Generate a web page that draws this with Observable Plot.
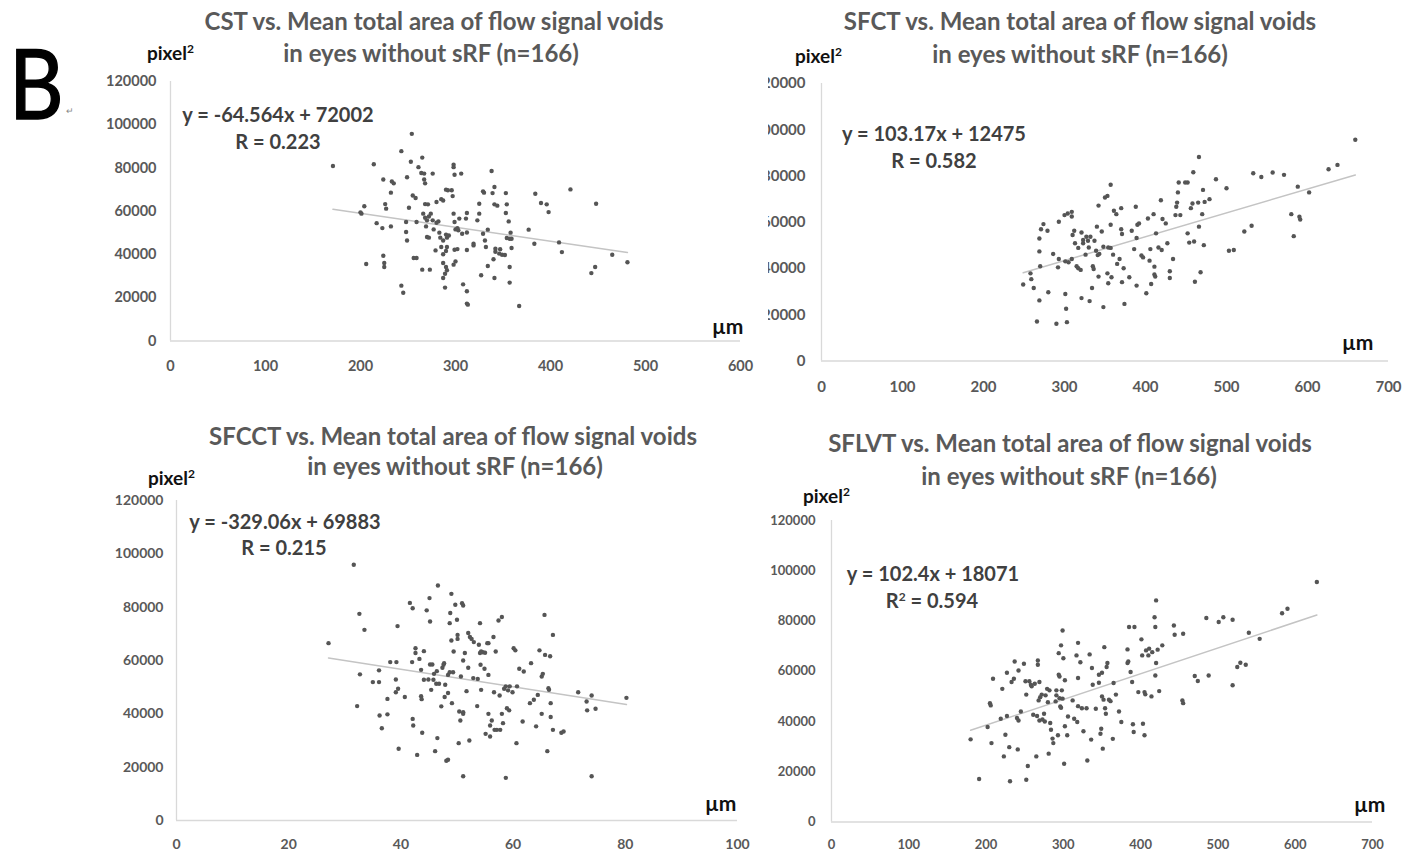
<!DOCTYPE html>
<html>
<head>
<meta charset="utf-8">
<script src="https://cdn.jsdelivr.net/npm/d3@7"></script>
<script src="https://cdn.jsdelivr.net/npm/@observablehq/plot@0.6"></script>
<style>
  body { margin: 0; background: #fff; }
  #page { position: relative; width: 1419px; height: 856px; overflow: hidden; font-family: Lato, "Open Sans", sans-serif; background: #fff; }
  .abs { position: absolute; white-space: nowrap; }
  .title { transform: translate(-50%, -50%); font-weight: 700; color: #595959; font-size: 24px; }
  .eq { transform: translate(-50%, -50%); font-weight: 700; color: #404040; font-size: 20px; }
  .unit { transform: translate(0, -50%); font-weight: 700; color: #111; font-size: 19px; }
  .unit sup { font-size: 12px; vertical-align: 7px; }
  .um { transform: translate(0, -50%); font-weight: 700; color: #111; font-size: 21px; }
</style>
</head>
<body>
<div id="page"></div>
<script>
// ---------------- DATA ----------------
const panelNames = ["CST", "SFCT", "SFCCT", "SFLVT"];
const titleTail = " vs. Mean total area of flow signal voids";
const titleLine2 = "in eyes without sRF (n=166)";
const yTicks = [0, 20000, 40000, 60000, 80000, 100000, 120000];
const xTicksUm600 = [0, 100, 200, 300, 400, 500, 600];
const xTicksUm700 = [0, 100, 200, 300, 400, 500, 600, 700];
const xTicksPct = [0, 20, 40, 60, 80, 100];
const slopes = [-64.564, 103.17, -329.06, 102.4];
const intercepts = [72002, 12475, 69883, 18071];
const equations = ["y = -64.564x + 72002", "y = 103.17x + 12475", "y = -329.06x + 69883", "y = 102.4x + 18071"];
const rTexts = ["R = 0.223", "R = 0.582", "R = 0.215", "R\u00B2 = 0.594"];

const cstPoints = [
[171,80900],[201,58900],[204,62300],[200,59500],[206,35600],[214,81700],[217,54500],[223,52200],[224,74700],[226,63300],
[227,61200],[224,39400],[225,36100],[225,34200],[232,68600],[233,73800],[235,72900],[232,53000],[243,87800],[243,25600],
[245,22300],[249,75700],[251,61600],[253,82900],[254,95800],[255,67300],[258,66100],[248,55000],[248,50400],[249,46500],
[256,38400],[259,38400],[259,55000],[261,80400],[264,77700],[265,84800],[267,77400],[267,74700],[268,72900],[265,33000],
[273,33000],[266,58900],[268,63300],[271,63200],[268,57000],[270,55800],[272,57600],[269,53000],[270,48100],[272,47800],
[276,77400],[274,58900],[276,55800],[277,51600],[279,41900],[280,54700],[282,55300],[280,64300],[283,50100],[284,47800],
[285,65600],[287,65000],[287,46500],[285,43500],[287,40100],[287,36100],[287,29100],[289,31100],[289,24700],[290,70000],
[292,69700],[290,49200],[291,47800],[293,48800],[291,43500],[290,41600],[290,34200],[291,32700],[296,69700],[297,67000],
[298,81500],[298,80400],[299,76900],[298,58900],[299,55000],[300,51600],[302,52200],[303,51200],[299,42200],[302,42500],
[300,36800],[298,35300],[304,56600],[306,77400],[307,49600],[308,26200],[311,56600],[312,59200],[312,50200],[312,42100],
[312,23000],[312,17300],[313,16800],[319,45000],[319,44200],[323,55800],[325,58900],[325,63500],[327,30400],[329,69200],
[330,68600],[329,49600],[331,46500],[332,43500],[334,51500],[334,34700],[338,78600],[339,68400],[341,71200],[341,63200],
[344,62600],[342,42700],[340,37800],[341,29100],[342,41300],[346,40400],[347,42400],[349,39900],[352,39800],[353,68400],
[354,63200],[353,59200],[354,47600],[356,55300],[357,47300],[357,34200],[357,27000],[358,50100],[359,43000],[359,47300],
[367,16200],[377,51500],[383,45000],[384,68100],[390,63800],[396,63200],[398,59600],[409,45600],[412,41100],[421,70100],
[443,31400],[447,34200],[448,63500],[465,39900],[481,36400]
];

const sfctPoints = [
[249,33100],[258,37900],[259,35400],[262,31600],[266,17100],[269,26200],[269,47400],[269,53000],[270,41000],[271,57000],
[274,59200],[279,56300],[280,29700],[286,46300],[290,16100],[293,60200],[293,44100],[292,40500],[301,29000],[302,22600],
[303,16800],[300,63100],[304,63800],[309,64500],[309,62500],[301,43100],[305,42700],[309,44100],[310,54500],[312,56300],
[313,50900],[315,41000],[317,40100],[317,48900],[320,39400],[321,27200],[321,55600],[323,50900],[323,52300],[326,46000],
[327,53700],[329,52000],[330,49100],[331,25900],[332,53700],[334,31600],[335,41000],[336,39800],[337,52000],[339,47700],
[341,45800],[340,58100],[342,67200],[342,36500],[343,46300],[346,56000],[348,23300],[348,49400],[350,70700],[353,71400],
[353,37900],[354,33600],[354,49100],[357,76200],[357,48900],[357,58900],[358,36200],[360,46000],[361,65000],[364,63500],
[365,42000],[368,44100],[370,66100],[370,57000],[371,54900],[371,34100],[373,40100],[374,24700],[380,36200],[383,56300],
[386,48400],[388,66700],[389,53200],[389,32600],[390,58900],[392,59500],[395,45600],[397,44800],[401,29300],[403,61600],
[405,43400],[406,48400],[407,33300],[410,63500],[411,40800],[411,37400],[412,36500],[413,55200],[416,49100],[419,69500],
[420,48000],[421,61400],[425,59500],[427,50900],[430,38800],[430,35900],[434,44100],[437,63100],[438,66700],[439,68500],
[440,72900],[441,77200],[443,63100],[449,77200],[452,77200],[452,55200],[454,51200],[456,66100],[458,68100],[459,81600],
[460,51700],[461,34300],[465,68500],[466,58100],[466,88200],[468,38400],[470,63500],[471,74000],[472,50100],[473,68800],
[479,70000],[487,78600],[500,74700],[503,47700],[509,48000],[522,56000],[531,58500],[533,81200],[543,79600],[557,81500],
[571,80500],[580,63500],[583,54000],[588,75400],[590,62400],[591,61200],[602,72900],[626,82900],[637,84800],[659,95700]
];

const sfcctPoints = [
[27.1,66500],[31.6,95900],[32.2,42900],[32.6,77500],[32.7,54800],[33.5,71500],[35.0,51900],[36.1,51900],[36.1,56300],[36.2,39400],
[36.6,34600],[37.6,45600],[37.6,39800],[38.1,59400],[39.2,59400],[39.1,48100],[39.1,52900],[39.4,72900],[39.5,49400],[39.6,26900],
[40.7,46300],[41.6,81600],[42.1,79600],[42.0,59400],[42.1,38100],[42.2,35600],[42.6,64600],[42.6,62800],[42.9,24600],[43.3,60600],
[43.6,56500],[43.6,46600],[43.7,45500],[43.8,32900],[44.1,63500],[44.1,52800],[44.6,78800],[44.9,52900],[45.1,83400],[45.2,74600],
[45.2,58500],[45.4,49000],[45.6,58500],[45.8,52800],[45.9,55000],[46.1,26000],[46.3,51300],[46.4,56000],[46.5,30900],[46.6,88100],
[46.8,51300],[47.2,42800],[47.4,57300],[47.6,58400],[47.7,59000],[47.8,46300],[47.9,50900],[48.1,22400],[48.4,47800],[48.4,22800],
[48.4,54600],[48.7,55600],[48.7,74000],[48.8,77800],[49.0,67500],[49.0,85000],[49.1,44000],[49.3,55600],[49.4,63400],[49.7,80900],
[50.0,75300],[50.1,68100],[50.1,69600],[50.3,29000],[50.4,40900],[50.6,37500],[50.7,54000],[50.9,81500],[51.1,80600],[51.1,40600],
[51.1,40000],[51.1,16600],[51.1,60000],[51.4,62800],[51.7,48500],[52.0,57300],[52.0,70300],[52.2,30000],[52.3,68800],[52.6,68100],
[52.9,53400],[53.0,66900],[53.6,42900],[53.7,53100],[53.9,65900],[54.1,74000],[54.1,62800],[54.2,58400],[54.3,63400],[54.3,49000],
[54.6,63100],[54.9,56900],[55.0,62900],[55.1,32500],[55.4,66500],[55.6,66500],[55.6,54600],[55.6,40000],[55.9,35600],[55.9,31500],
[56.2,37500],[56.5,68800],[56.6,48100],[56.7,34000],[56.9,63400],[57.1,34000],[57.4,75000],[57.6,46900],[57.7,34000],[58.0,76300],
[58.0,40000],[58.2,36500],[58.4,49400],[58.7,16000],[58.7,50300],[58.9,42100],[59.1,48800],[59.3,41300],[59.4,50300],[59.9,48100],
[60.1,64600],[60.4,63800],[60.6,29000],[60.7,50300],[61.1,56900],[61.7,37100],[61.9,55900],[63.0,44000],[63.2,59000],[63.7,45300],
[64.1,35300],[64.4,47100],[64.7,63800],[65.1,54000],[65.1,40000],[65.3,55000],[65.6,77100],[65.7,62100],[66.1,26000],[66.3,49600],
[66.4,49000],[66.6,61600],[66.7,44000],[66.7,38800],[67.1,69600],[67.1,34000],[68.6,32900],[69.0,33400],[71.6,48100],[73.1,44600],
[73.2,41300],[74.0,46900],[74.0,16600],[74.7,41900],[80.2,46000]
];

const sflvtPoints = [
[180,32900],[191,17100],[202,37800],[205,47300],[206,46400],[207,31400],[209,57000],[221,53000],[219,41100],[223,26100],
[225,34700],[227,59400],[227,42200],[230,29800],[231,16200],[233,55700],[236,57000],[237,63900],[240,41400],[241,28900],
[242,60300],[242,40400],[245,44000],[249,63000],[251,56000],[252,50700],[252,16800],[254,22300],[256,56000],[258,54600],
[259,54000],[261,42700],[263,55000],[265,26100],[267,64300],[267,62600],[266,42200],[268,48400],[269,55700],[269,40400],
[270,49700],[272,50700],[273,40800],[275,43100],[276,40000],[277,50400],[279,53000],[280,47700],[281,27200],[282,52400],
[283,39400],[284,36700],[286,33200],[287,31400],[290,48000],[291,50400],[291,52400],[293,34500],[294,67200],[294,58600],
[295,57900],[295,49300],[296,46000],[297,45500],[297,70300],[298,52400],[299,49100],[300,65200],[299,76200],[301,23200],
[302,38100],[302,56400],[305,34500],[306,42000],[312,48400],[314,41100],[317,66300],[318,39800],[319,57300],[319,46100],
[319,71300],[322,63600],[324,45300],[326,36100],[330,45300],[331,24500],[334,66700],[336,32800],[337,61300],[338,54600],
[342,45100],[346,55400],[346,58600],[348,35100],[349,37100],[350,59400],[350,50000],[351,29200],[352,48700],[353,69600],
[354,45300],[355,43100],[356,61700],[357,63300],[359,48700],[361,48100],[364,33100],[365,55300],[368,50700],[372,44000],
[375,39800],[383,68700],[383,63300],[384,63900],[385,77600],[387,59700],[389,55700],[390,38900],[391,35800],[392,77600],
[397,51700],[401,72700],[402,66300],[403,39100],[405,51700],[405,34500],[406,50800],[407,68300],[410,66300],[411,69000],
[414,50000],[415,67600],[418,81500],[419,58300],[419,77600],[420,88200],[420,63300],[422,68600],[424,52100],[428,70300],
[443,78200],[444,74500],[455,74900],[454,48400],[455,47300],[470,58100],[474,56100],[485,81200],[488,58300],[501,79600],
[507,81500],[519,80500],[519,54400],[525,61700],[529,63400],[536,62600],[540,75300],[554,72900],[583,83100],[590,84900],
[628,95500]
];

const allPoints = [cstPoints, sfctPoints, sfcctPoints, sflvtPoints];
const allXTicks = [xTicksUm600, xTicksUm700, xTicksPct, xTicksUm700];

// ---------------- LAYOUT (page pixels) ----------------
const layout = [
  { left: 170, right: 740, top: 81, bottom: 340.5, padX: 20, padY: 14, clipLeft: 0, fs: 14.5,
    t1: [434, 20], t2: [431, 52], eq: [278, 114], r: [278, 141], unit: [147, 52], um: [712, 325] },
  { left: 821, right: 1388, top: 83, bottom: 360.5, padX: 20, padY: 16, clipLeft: 768, fs: 15,
    t1: [1080, 20], t2: [1080, 53], eq: [934, 133], r: [934, 160], unit: [795, 55], um: [1342, 341] },
  { left: 176, right: 737, top: 500, bottom: 820, padX: 19, padY: 13, clipLeft: 0, fs: 14,
    t1: [453, 435], t2: [455, 465], eq: [285, 521], r: [284, 547], unit: [148, 477], um: [705, 802] },
  { left: 831, right: 1372, top: 520, bottom: 821.5, padX: 18, padY: 16, clipLeft: 0, fs: 13,
    t1: [1070, 442], t2: [1069, 475], eq: [933, 573], r: [932, 600], unit: [803, 495], um: [1354, 803] }
];

const page = document.getElementById("page");

function addText(cls, pos, html, extra) {
  const d = document.createElement("div");
  d.className = "abs " + cls;
  d.style.left = pos[0] + "px";
  d.style.top = pos[1] + "px";
  d.innerHTML = html;
  if (extra) Object.assign(d.style, extra);
  page.appendChild(d);
  return d;
}

// Big panel letter
addText("", [9, 82], "B", { transform: "translate(0,-50%) scaleX(0.88)", transformOrigin: "left center", fontSize: "96px", color: "#000", fontFamily: "Lato, sans-serif", fontWeight: 400, lineHeight: "1", WebkitTextStroke: "1.5px #000" });
addText("", [66, 110], "\u21B5", { transform: "translate(0,-50%)", fontSize: "9px", color: "#888" });

panelNames.forEach((name, i) => {
  const L = layout[i];
  const padL = 80, padR = 30, padT = 20, padB = 50;
  const w = L.right - L.left + padL + padR;
  const h = L.bottom - L.top + padT + padB;
  const xt = allXTicks[i];
  const data = allPoints[i].map(([x, y]) => ({ x, y }));
  const ext = d3.extent(data, d => d.x);
  const trend = ext.map(x => ({ x, y: slopes[i] * x + intercepts[i] }));

  const chart = Plot.plot({
    width: w,
    height: h,
    marginLeft: padL, marginRight: padR, marginTop: padT, marginBottom: padB,
    style: { background: "none", overflow: "visible", fontFamily: "Lato, 'Open Sans', sans-serif", fontSize: L.fs + "px", fontWeight: "700", color: "#595959" },
    x: { domain: [xt[0], xt[xt.length - 1]], ticks: xt, tickSize: 0, tickPadding: L.padX, tickFormat: d => String(d), label: null },
    y: { domain: [0, 120000], ticks: yTicks, tickSize: 0, tickPadding: L.padY, tickFormat: d => String(d), label: null },
    marks: [
      Plot.ruleY([0], { stroke: "#d9d9d9", strokeWidth: 1.3 }),
      Plot.ruleX([xt[0]], { stroke: "#d9d9d9", strokeWidth: 1.3 }),
      Plot.line(trend, { x: "x", y: "y", stroke: "#c4c4c4", strokeWidth: 1.5 }),
      Plot.dot(data, { x: "x", y: "y", r: 2.2, fill: "#555", stroke: "none" })
    ]
  });

  const holder = document.createElement("div");
  holder.style.position = "absolute";
  holder.style.left = (L.left - padL) + "px";
  holder.style.top = (L.top - padT) + "px";
  holder.style.width = w + "px";
  holder.style.height = h + "px";
  if (L.clipLeft) holder.style.clipPath = `inset(0 0 0 ${L.clipLeft - (L.left - padL)}px)`;
  holder.appendChild(chart);
  page.appendChild(holder);

  addText("title", L.t1, name + titleTail);
  addText("title", L.t2, titleLine2);
  addText("eq", L.eq, equations[i]);
  addText("eq", L.r, rTexts[i].replace("\u00B2", "<sup style='font-size:12px;vertical-align:7px'>2</sup>"));
  addText("unit", L.unit, "pixel<sup>2</sup>");
  addText("um", L.um, "\u00B5m");
});
</script>
</body>
</html>
